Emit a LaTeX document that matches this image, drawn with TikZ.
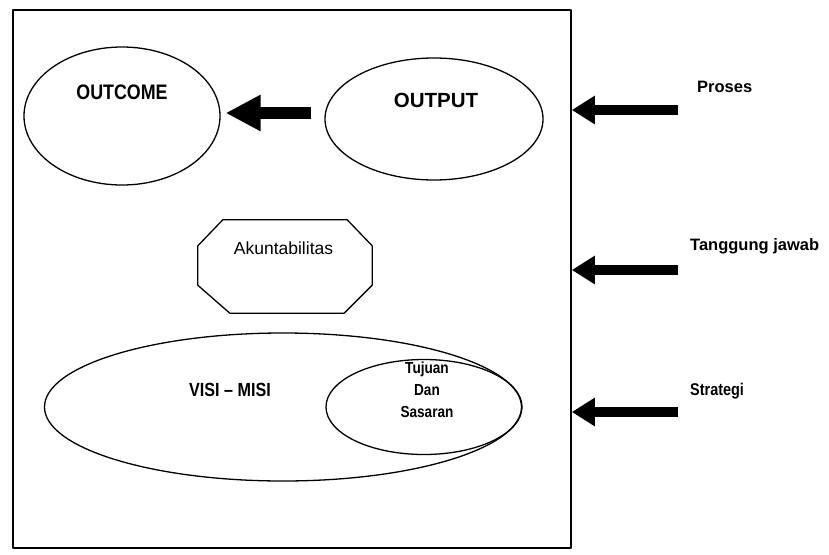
\documentclass[tikz,border=0pt]{standalone}
\usepackage{fontspec}
\setmainfont{Liberation Sans}
\newfontfamily\narrowsans{Liberation Sans}[FakeStretch=0.85,Ligatures=TeX]
\usetikzlibrary{shapes.geometric,arrows.meta,calc}
\begin{document}
\begin{tikzpicture}[x=1pt,y=-1pt,line join=round,
  ell/.style={draw, ellipse, line width=1.3pt, inner sep=0pt},
  bigarrow/.style={line width=12pt, -{Triangle[length=35pt,width=34pt]}},
  sidearrow/.style={line width=9.5pt, -{Triangle[length=23pt,width=27pt]}},
  bigtxt/.style={font=\narrowsans\bfseries\fontsize{21}{21}\selectfont, inner sep=0pt},
  sidetxt/.style={font=\bfseries\fontsize{16.5}{16.5}\selectfont, inner sep=0pt, anchor=base west}]
\useasboundingbox (0,0) rectangle (829,554);
\fill[white] (0,0) rectangle (829,554);
% frame
\node[draw, line width=1.8pt, minimum width=558pt, minimum height=538pt, inner sep=0pt, anchor=north west] (frame) at (12,9) {};
% ellipses
\node[ell, minimum width=196pt, minimum height=138pt] (outcome) at (122,116) {};
\node[ell, minimum width=218pt, minimum height=122pt] (output) at (434,119) {};
\node[ell, minimum width=477pt, minimum height=148pt] (visi) at (283,407) {};
\node[ell, minimum width=196pt, minimum height=95pt] (tujuan) at (424,407) {};
% octagon (box node + chamfered outline)
\node[minimum width=174pt, minimum height=93pt, inner sep=0pt] (akun) at (285,266.5) {};
\draw[line width=1.3pt]
  ($(akun.north west)+(25,0)$) -- ($(akun.north east)+(-25,0)$) -- ($(akun.north east)+(0,26)$)
  -- ($(akun.south east)+(0,-28)$) -- ($(akun.south east)+(-28,0)$) -- ($(akun.south west)+(32,0)$)
  -- ($(akun.south west)+(0,-28)$) -- ($(akun.north west)+(0,26)$) -- cycle;
% texts
\node[bigtxt] (toutcome) at (122,92.5) {OUTCOME};
\node[font=\bfseries\fontsize{20.5}{20.5}\selectfont, inner sep=0pt] (toutput) at (436,100.5) {OUTPUT};
\node[font=\narrowsans\bfseries\fontsize{19}{19}\selectfont, inner sep=0pt] (tvisi) at (230,390) {VISI – MISI};
\node[font=\fontsize{17.5}{17.5}\selectfont, inner sep=0pt] (takun) at (283.5,248.5) {Akuntabilitas};
\node[font=\narrowsans\bfseries\fontsize{16}{22}\selectfont, align=center, inner sep=0pt] (ttujuan) at (427,390) {Tujuan\\Dan\\Sasaran};
% side labels
\node[sidetxt] (proses) at (697,92) {Proses};
\node[sidetxt] (tanggung) at (690,250) {Tanggung jawab};
\node[sidetxt, font=\narrowsans\bfseries\fontsize{17}{17}\selectfont] (strategi) at (690,395) {Strategi};
% arrow tails
\coordinate (p1) at (678,110);
\coordinate (p2) at (678,270);
\coordinate (p3) at (678,412);
\draw[sidearrow] (p1) -- (p1 -| frame.east);
\draw[sidearrow] (p2) -- (p2 -| frame.east);
\draw[sidearrow] (p3) -- (p3 -| frame.east);
% output -> outcome
\draw[bigarrow] ($(output.west)+(-13,-6)$) -- ($(outcome.east)+(5,-3)$);
\end{tikzpicture}
\end{document}
